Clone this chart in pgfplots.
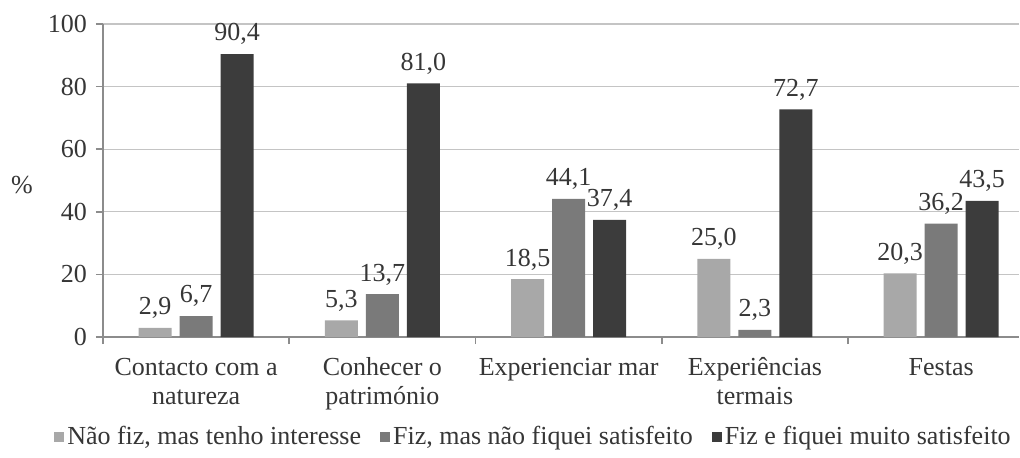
\documentclass[border=0pt]{standalone}
\usepackage{fontspec}
\setmainfont{Liberation Serif}
\usepackage{pgfplots}
\pgfplotsset{compat=1.18}
\definecolor{cA}{HTML}{A8A8A8}
\definecolor{cB}{HTML}{7A7A7A}
\definecolor{cC}{HTML}{3C3C3C}
\definecolor{txt}{HTML}{363636}
\definecolor{gridc}{HTML}{C4C4C4}
\definecolor{axc}{HTML}{8C8C8C}
\begin{document}
\fontsize{13}{15}\selectfont
\begin{tikzpicture}
\path[use as bounding box] (-51.5pt,-60pt) rectangle (458.5pt,168.5pt);
\begin{axis}[
  at={(0,0)}, anchor=south west,
  scale only axis, width=458pt, height=156.5pt,
  xmin=-0.5, xmax=4.418, ymin=0, ymax=100,
  axis lines*=left,
  axis line style={draw=axc, line width=0.8pt},
  tick align=outside,
  tick style={draw=axc, line width=0.8pt},
  major tick length=3.5pt,
  ytick={0,20,...,100},
  ymajorgrids, grid style={draw=gridc, line width=0.6pt},
  yticklabel style={text=txt, font=\fontsize{13}{15}\selectfont},
  xtick={-0.5,0.5,1.5,2.5,3.5},
  xticklabels={},
  extra x ticks={0,1,2,3,4},
  extra x tick labels={{\strut Contacto com a\\natureza},{\strut Conhecer o\\património},{\strut Experienciar mar},{\strut Experiências\\termais},{\strut Festas}},
  extra x tick style={major tick length=0pt, grid=none,
    xticklabel style={align=center, text=txt, font=\fontsize{13}{14.5}\selectfont, yshift=-4.5pt}},
  /pgf/number format/assume math mode=true,
  ylabel={\%}, ylabel style={rotate=-90, at={(axis description cs:-0.0884,0.486)}, anchor=center, text=txt, font=\fontsize{13}{15}\selectfont},
  ybar, bar width=16.5pt,
  nodes near coords={\pgfmathprintnumber[use comma,fixed,fixed zerofill,precision=1,assume math mode=true]{\pgfplotspointmeta}},
  every node near coord/.append style={text=txt, font=\fontsize{13}{15}\selectfont},
  legend columns=3,
  legend style={at={(axis description cs:0.4705,-0.3195)}, anchor=center, draw=none,
    text=txt, font=\fontsize{13}{15}\selectfont,
    /tikz/every even column/.append style={column sep=8pt},
    nodes={inner sep=1.5pt}},
  legend image code/.code={\fill[#1] (0pt,-2.3pt) rectangle (5pt,2.7pt);},
]
\addplot[fill=cA, draw=none, bar shift=-20.5pt] coordinates {(0,2.9) (1,5.3) (2,18.5) (3,25.0) (4,20.3)};
\addplot[fill=cB, draw=none, bar shift=0pt] coordinates {(0,6.7) (1,13.7) (2,44.1) (3,2.3) (4,36.2)};
\addplot[fill=cC, draw=none, bar shift=20.5pt] coordinates {(0,90.4) (1,81.0) (2,37.4) (3,72.7) (4,43.5)};
\legend{{Não fiz, mas tenho interesse},{Fiz, mas não fiquei satisfeito},{Fiz e fiquei muito satisfeito}}
\end{axis}
\end{tikzpicture}
\end{document}
